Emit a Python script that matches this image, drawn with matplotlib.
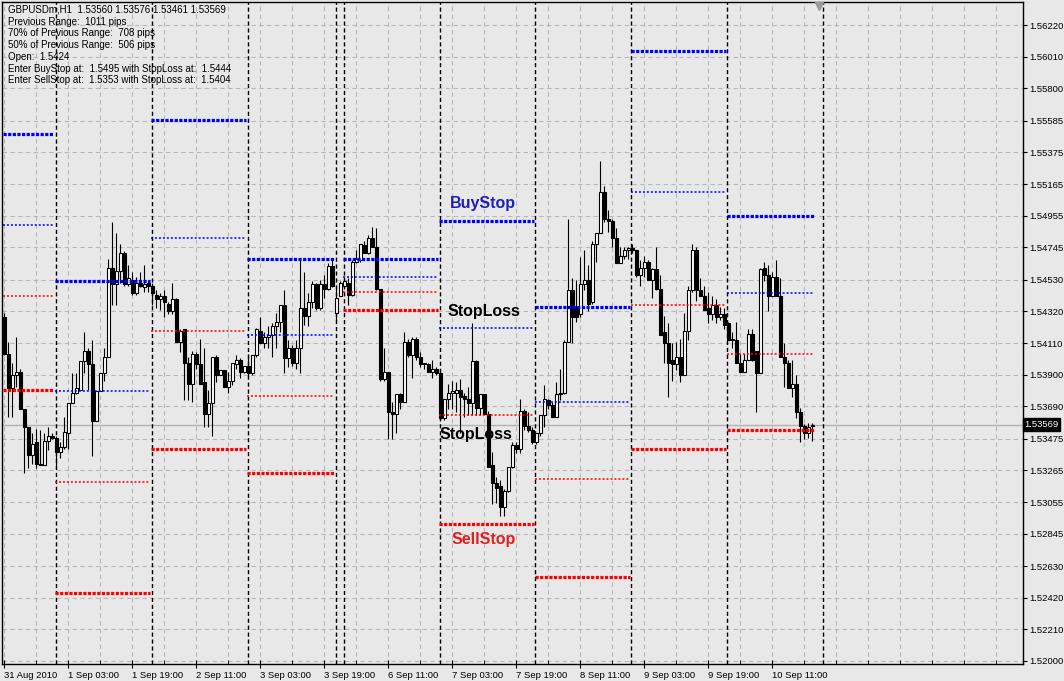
# GBPUSDm H1 chart with daily breakout levels (BuyStop / SellStop / StopLoss)
import matplotlib
matplotlib.use("Agg")
import numpy as np
import matplotlib.pyplot as plt
from matplotlib.transforms import blended_transform_factory

plt.rcParams['font.family'] = ['Liberation Sans', 'DejaVu Sans']

# ---- candle data ----
opens = [1.5428, 1.5404, 1.5381, 1.5390, 1.5392, 1.5367, 1.5355, 1.5337, 1.5345, 1.5331,
         1.5330, 1.5346, 1.5349, 1.5348, 1.5339, 1.5342, 1.5351, 1.5371, 1.5378, 1.5380,
         1.5399, 1.5406, 1.5397, 1.5359, 1.5379, 1.5391, 1.5402, 1.5461, 1.5450, 1.5459,
         1.5471, 1.5450, 1.5453, 1.5444, 1.5451, 1.5448, 1.5451, 1.5449, 1.5443, 1.5440,
         1.5442, 1.5437, 1.5432, 1.5440, 1.5412, 1.5420, 1.5398, 1.5384, 1.5404, 1.5397,
         1.5385, 1.5364, 1.5371, 1.5402, 1.5390, 1.5393, 1.5382, 1.5386, 1.5397, 1.5400,
         1.5392, 1.5396, 1.5391, 1.5403, 1.5419, 1.5411, 1.5415, 1.5416, 1.5422, 1.5425,
         1.5436, 1.5401, 1.5408, 1.5398, 1.5408, 1.5434, 1.5429, 1.5438, 1.5450, 1.5434,
         1.5450, 1.5447, 1.5462, 1.5431, 1.5442, 1.5449, 1.5451, 1.5443, 1.5465, 1.5466,
         1.5476, 1.5471, 1.5481, 1.5475, 1.5447, 1.5387, 1.5392, 1.5365, 1.5364, 1.5377,
         1.5372, 1.5412, 1.5403, 1.5414, 1.5402, 1.5397, 1.5397, 1.5392, 1.5394, 1.5391,
         1.5361, 1.5374, 1.5378, 1.5378, 1.5380, 1.5376, 1.5374, 1.5371, 1.5399, 1.5368,
         1.5377, 1.5364, 1.5330, 1.5318, 1.5316, 1.5302, 1.5313, 1.5329, 1.5343, 1.5341,
         1.5366, 1.5356, 1.5353, 1.5345, 1.5351, 1.5363, 1.5373, 1.5370, 1.5362, 1.5377,
         1.5378, 1.5412, 1.5446, 1.5435, 1.5430, 1.5450, 1.5453, 1.5438, 1.5477, 1.5484,
         1.5511, 1.5493, 1.5492, 1.5481, 1.5464, 1.5469, 1.5473, 1.5474, 1.5473, 1.5456,
         1.5461, 1.5465, 1.5453, 1.5460, 1.5447, 1.5418, 1.5411, 1.5400, 1.5397, 1.5402,
         1.5390, 1.5419, 1.5446, 1.5473, 1.5446, 1.5442, 1.5434, 1.5430, 1.5436, 1.5428,
         1.5430, 1.5424, 1.5413, 1.5413, 1.5398, 1.5392, 1.5400, 1.5417, 1.5406, 1.5391,
         1.5461, 1.5456, 1.5442, 1.5455, 1.5442, 1.5402, 1.5398, 1.5381, 1.5384, 1.5365,
         1.5356, 1.5351, 1.53560]
highs = [1.5431, 1.5412, 1.5398, 1.5415, 1.5394, 1.5367, 1.5355, 1.5351, 1.5354, 1.5353,
         1.5351, 1.5355, 1.5351, 1.5349, 1.5345, 1.5362, 1.5371, 1.5391, 1.5391, 1.5399,
         1.5418, 1.5408, 1.5413, 1.5379, 1.5391, 1.5408, 1.5467, 1.5491, 1.5484, 1.5477,
         1.5472, 1.5463, 1.5458, 1.5455, 1.5458, 1.5463, 1.5453, 1.5451, 1.5446, 1.5444,
         1.5446, 1.5438, 1.5451, 1.5441, 1.5420, 1.5420, 1.5402, 1.5406, 1.5405, 1.5414,
         1.5408, 1.5380, 1.5402, 1.5403, 1.5393, 1.5393, 1.5392, 1.5398, 1.5403, 1.5401,
         1.5396, 1.5404, 1.5403, 1.5421, 1.5428, 1.5418, 1.5422, 1.5424, 1.5431, 1.5436,
         1.5446, 1.5413, 1.5410, 1.5413, 1.5466, 1.5458, 1.5444, 1.5452, 1.5451, 1.5453,
         1.5456, 1.5464, 1.5467, 1.5448, 1.5452, 1.5455, 1.5454, 1.5466, 1.5473, 1.5477,
         1.5479, 1.5483, 1.5488, 1.5487, 1.5447, 1.5408, 1.5392, 1.5372, 1.5377, 1.5378,
         1.5418, 1.5414, 1.5415, 1.5415, 1.5405, 1.5398, 1.5398, 1.5400, 1.5395, 1.5392,
         1.5374, 1.5384, 1.5386, 1.5385, 1.5387, 1.5378, 1.5382, 1.5424, 1.5400, 1.5377,
         1.5377, 1.5366, 1.5339, 1.5322, 1.5320, 1.5314, 1.5329, 1.5345, 1.5345, 1.5374,
         1.5367, 1.5365, 1.5355, 1.5351, 1.5363, 1.5383, 1.5374, 1.5372, 1.5385, 1.5394,
         1.5413, 1.5493, 1.5454, 1.5453, 1.5468, 1.5473, 1.5463, 1.5479, 1.5484, 1.5532,
         1.5515, 1.5499, 1.5493, 1.5487, 1.5475, 1.5475, 1.5475, 1.5477, 1.5473, 1.5466,
         1.5469, 1.5466, 1.5461, 1.5475, 1.5456, 1.5429, 1.5424, 1.5411, 1.5412, 1.5414,
         1.5431, 1.5449, 1.5477, 1.5475, 1.5454, 1.5449, 1.5445, 1.5442, 1.5440, 1.5435,
         1.5434, 1.5425, 1.5418, 1.5425, 1.5404, 1.5404, 1.5420, 1.5420, 1.5406, 1.5461,
         1.5465, 1.5463, 1.5458, 1.5466, 1.5454, 1.5411, 1.5400, 1.5400, 1.5390, 1.5368,
         1.5357, 1.5358, 1.53576]
lows = [1.5403, 1.5362, 1.5362, 1.5382, 1.5367, 1.5325, 1.5328, 1.5331, 1.5328, 1.5330,
        1.5330, 1.5340, 1.5347, 1.5328, 1.5335, 1.5341, 1.5341, 1.5371, 1.5377, 1.5380,
        1.5391, 1.5380, 1.5336, 1.5359, 1.5379, 1.5386, 1.5402, 1.5436, 1.5436, 1.5451,
        1.5449, 1.5449, 1.5443, 1.5443, 1.5448, 1.5445, 1.5445, 1.5436, 1.5434, 1.5433,
        1.5428, 1.5430, 1.5430, 1.5412, 1.5405, 1.5373, 1.5373, 1.5372, 1.5394, 1.5384,
        1.5355, 1.5355, 1.5349, 1.5385, 1.5390, 1.5382, 1.5378, 1.5383, 1.5394, 1.5388,
        1.5391, 1.5388, 1.5390, 1.5402, 1.5411, 1.5408, 1.5408, 1.5402, 1.5408, 1.5418,
        1.5391, 1.5395, 1.5396, 1.5394, 1.5391, 1.5423, 1.5422, 1.5434, 1.5433, 1.5433,
        1.5441, 1.5446, 1.5448, 1.5425, 1.5442, 1.5448, 1.5436, 1.5442, 1.5464, 1.5465,
        1.5471, 1.5470, 1.5475, 1.5446, 1.5386, 1.5386, 1.5347, 1.5347, 1.5351, 1.5367,
        1.5372, 1.5402, 1.5388, 1.5400, 1.5395, 1.5394, 1.5392, 1.5388, 1.5390, 1.5360,
        1.5360, 1.5367, 1.5367, 1.5365, 1.5351, 1.5362, 1.5363, 1.5363, 1.5363, 1.5363,
        1.5364, 1.5329, 1.5304, 1.5305, 1.5296, 1.5296, 1.5312, 1.5328, 1.5338, 1.5338,
        1.5353, 1.5352, 1.5344, 1.5344, 1.5349, 1.5355, 1.5367, 1.5362, 1.5362, 1.5373,
        1.5377, 1.5412, 1.5411, 1.5425, 1.5428, 1.5446, 1.5432, 1.5437, 1.5465, 1.5484,
        1.5491, 1.5485, 1.5475, 1.5464, 1.5464, 1.5467, 1.5467, 1.5471, 1.5455, 1.5449,
        1.5455, 1.5453, 1.5441, 1.5446, 1.5416, 1.5398, 1.5375, 1.5386, 1.5393, 1.5385,
        1.5390, 1.5413, 1.5445, 1.5439, 1.5442, 1.5433, 1.5424, 1.5426, 1.5424, 1.5426,
        1.5420, 1.5413, 1.5408, 1.5398, 1.5392, 1.5392, 1.5400, 1.5399, 1.5365, 1.5391,
        1.5452, 1.5432, 1.5442, 1.5442, 1.5402, 1.5382, 1.5381, 1.5375, 1.5361, 1.5345,
        1.5347, 1.5348, 1.53461]
closes = [1.5404, 1.5381, 1.5390, 1.5392, 1.5367, 1.5355, 1.5337, 1.5344, 1.5331, 1.5330,
          1.5346, 1.5349, 1.5348, 1.5339, 1.5342, 1.5352, 1.5371, 1.5378, 1.5381, 1.5399,
          1.5406, 1.5397, 1.5359, 1.5379, 1.5391, 1.5402, 1.5461, 1.5450, 1.5459, 1.5471,
          1.5450, 1.5454, 1.5444, 1.5451, 1.5449, 1.5450, 1.5449, 1.5444, 1.5440, 1.5442,
          1.5438, 1.5432, 1.5440, 1.5412, 1.5419, 1.5398, 1.5384, 1.5404, 1.5397, 1.5384,
          1.5364, 1.5371, 1.5402, 1.5390, 1.5393, 1.5382, 1.5386, 1.5398, 1.5400, 1.5392,
          1.5396, 1.5391, 1.5403, 1.5420, 1.5411, 1.5415, 1.5416, 1.5422, 1.5425, 1.5436,
          1.5401, 1.5408, 1.5398, 1.5408, 1.5434, 1.5429, 1.5438, 1.5450, 1.5434, 1.5450,
          1.5447, 1.5462, 1.5449, 1.5441, 1.5451, 1.5452, 1.5443, 1.5465, 1.5467, 1.5477,
          1.5471, 1.5481, 1.5475, 1.5447, 1.5387, 1.5392, 1.5365, 1.5364, 1.5377, 1.5372,
          1.5412, 1.5403, 1.5414, 1.5402, 1.5397, 1.5398, 1.5392, 1.5394, 1.5391, 1.5361,
          1.5374, 1.5378, 1.5379, 1.5380, 1.5375, 1.5374, 1.5371, 1.5399, 1.5368, 1.5377,
          1.5364, 1.5329, 1.5318, 1.5315, 1.5302, 1.5313, 1.5329, 1.5343, 1.5341, 1.5366,
          1.5356, 1.5353, 1.5345, 1.5351, 1.5363, 1.5374, 1.5370, 1.5362, 1.5377, 1.5378,
          1.5412, 1.5446, 1.5428, 1.5428, 1.5450, 1.5453, 1.5437, 1.5477, 1.5484, 1.5511,
          1.5493, 1.5492, 1.5481, 1.5464, 1.5469, 1.5473, 1.5474, 1.5473, 1.5456, 1.5461,
          1.5465, 1.5453, 1.5460, 1.5447, 1.5416, 1.5411, 1.5398, 1.5397, 1.5402, 1.5390,
          1.5419, 1.5446, 1.5473, 1.5446, 1.5442, 1.5433, 1.5430, 1.5436, 1.5428, 1.5430,
          1.5423, 1.5413, 1.5414, 1.5398, 1.5392, 1.5400, 1.5417, 1.5400, 1.5391, 1.5460,
          1.5456, 1.5442, 1.5455, 1.5442, 1.5402, 1.5398, 1.5381, 1.5384, 1.5365, 1.5356,
          1.5351, 1.5355, 1.53569]

# time axis labels (one every 16 hourly bars)
time_labels = ["31 Aug 2010", "1 Sep 03:00", "1 Sep 19:00", "2 Sep 11:00", "3 Sep 03:00",
               "3 Sep 19:00", "6 Sep 11:00", "7 Sep 03:00", "7 Sep 19:00", "8 Sep 11:00",
               "9 Sep 03:00", "9 Sep 19:00", "10 Sep 11:00"]

# price axis labels
price_ticks = [1.56220, 1.56010, 1.55800, 1.55585, 1.55375, 1.55165, 1.54955, 1.54745,
               1.54530, 1.54320, 1.54110, 1.53900, 1.53690, 1.53475, 1.53265, 1.53055,
               1.52845, 1.52630, 1.52420, 1.52210, 1.52000]
last_price = 1.53569

# daily levels: first / last bar of each day and the four levels
day_first = [0, 13, 37, 61, 85, 109, 133, 157, 181]
day_last = [12, 36, 60, 82, 108, 132, 156, 180, 202]
buy_stop = [1.5550, 1.5452, 1.5559, 1.5467, 1.5467, 1.5492, 1.5435, 1.5605, 1.5495]
buy_sl = [1.5489, 1.5379, 1.5481, 1.5416, 1.5455, 1.5421, 1.5372, 1.5511, 1.5444]
sell_sl = [1.5442, 1.5319, 1.5419, 1.5376, 1.5445, 1.5363, 1.5321, 1.5436, 1.5404]
sell_stop = [1.5380, 1.5245, 1.5341, 1.5325, 1.5433, 1.5291, 1.5256, 1.5341, 1.5353]

# day separators (bar index where a new day starts)
separators = [13, 37, 61, 83, 85, 109, 133, 157, 181, 205]

info_lines = ["GBPUSDm,H1  1.53560 1.53576 1.53461 1.53569",
              "Previous Range:  1011 pips",
              "70% of Previous Range:  708 pips",
              "50% of Previous Range:  506 pips",
              "Open:  1.5424",
              "Enter BuyStop at:  1.5495 with StopLoss at:  1.5444",
              "Enter SellStop at:  1.5353 with StopLoss at:  1.5404"]

BG = '#e8e8e8'
W, H = 1064, 681

fig = plt.figure(figsize=(W / 100, H / 100), dpi=100, facecolor=BG)
ax = fig.add_axes([2 / W, 17 / H, 1021 / W, 662 / H])
ax.set_facecolor(BG)
ax.set_xlim(-0.6, 254.7)
ax.set_ylim(1.51980, 1.56373)

# grid
grid_kw = dict(color='#b8b8b8', linewidth=0.8, dashes=(4, 3), zorder=0)
for p in price_ticks:
    ax.axhline(p, **grid_kw)
for b in range(0, 255, 8):
    ax.axvline(b, **grid_kw)

# bid line
ax.axhline(last_price, color='#b4b4b4', linewidth=1.0, zorder=1)

# day separators
for s in separators:
    ax.axvline(s - 0.2, color='black', linewidth=1.0, dashes=(3, 2), zorder=2)

# candles
o = np.array(opens)
h = np.array(highs)
l = np.array(lows)
c = np.array(closes)
x = np.arange(len(o))
up = c >= o
ax.vlines(x, l, h, color='black', linewidth=0.8, zorder=3)
bottom = np.minimum(o, c)
height = np.maximum(np.abs(c - o), 0.000015)
ax.bar(x, height, bottom=bottom, width=0.66,
       color=np.where(up, 'white', 'black'), edgecolor='black', linewidth=0.8, zorder=4)

# daily levels
for i in range(len(day_first)):
    xs = [day_first[i] - 0.3, day_last[i] + 0.4]
    ax.plot(xs, [buy_stop[i]] * 2, color='#0000ff', linewidth=2.3, dashes=(1.0, 0.45),
            solid_capstyle='butt', dash_capstyle='butt', zorder=5)
    ax.plot(xs, [sell_stop[i]] * 2, color='#ff0000', linewidth=2.3, dashes=(1.0, 0.45),
            solid_capstyle='butt', dash_capstyle='butt', zorder=5)
    ax.plot(xs, [buy_sl[i]] * 2, color='#0000ff', linewidth=1.1, dashes=(1.3, 1.3), zorder=5)
    ax.plot(xs, [sell_sl[i]] * 2, color='#ff0000', linewidth=1.1, dashes=(1.3, 1.3), zorder=5)

# level captions on Tuesday
k = 5
lab_x = 119.7
ax.annotate("BuyStop", (lab_x, buy_stop[k]), xytext=(0, 17), textcoords='offset pixels',
            ha='center', va='center', fontsize=11.5, fontweight='bold', color='#1e1eb8', zorder=6)
ax.annotate("StopLoss", (lab_x, buy_sl[k]), xytext=(1, 16), textcoords='offset pixels',
            ha='center', va='center', fontsize=11.5, fontweight='bold', color='black', zorder=6)
ax.annotate("StopLoss", (lab_x, sell_sl[k]), xytext=(-7, -19), textcoords='offset pixels',
            ha='center', va='center', fontsize=11.5, fontweight='bold', color='black', zorder=6)
ax.annotate("SellStop", (lab_x, sell_stop[k]), xytext=(1, -16), textcoords='offset pixels',
            ha='center', va='center', fontsize=11.5, fontweight='bold', color='#e02020', zorder=6)

# axes styling
for sp in ax.spines.values():
    sp.set_color('black')
    sp.set_linewidth(1.0)

ax.yaxis.tick_right()
ax.set_yticks(price_ticks)
ax.set_yticklabels(["%.5f" % p for p in price_ticks])
ax.tick_params(axis='y', direction='out', length=3, width=0.8, pad=1.5,
               labelsize=6.8, colors='black')

ax.set_xticks(range(0, 16 * len(time_labels), 16))
ax.set_xticklabels(time_labels, ha='left')
ax.set_xticks(range(0, 255, 8), minor=True)
ax.tick_params(axis='x', which='major', direction='inout', length=6, width=0.8, pad=2,
               labelsize=6.8)
ax.tick_params(axis='x', which='minor', direction='in', length=3, width=0.6)

# current price marker box on the price axis
trans = blended_transform_factory(ax.transAxes, ax.transData)
ax.text(1.0015, last_price, "%.5f" % last_price, transform=trans, ha='left', va='center',
        fontsize=6.8, color='white', zorder=10, clip_on=False,
        bbox=dict(boxstyle='square,pad=0.18', fc='black', ec='black'))

# chart shift marker
trans_top = blended_transform_factory(ax.transData, ax.transAxes)
ax.plot([203.6], [0.994], marker='v', markersize=6, color='#9a9a9a', transform=trans_top,
        clip_on=False, zorder=10)

# info block
for i, line in enumerate(info_lines):
    fig.text(8 / W, 1 - (10 + 11.7 * i) / H, line, fontsize=7, va='center', ha='left',
             color='black', zorder=20)

fig.savefig("out.png", dpi=100, facecolor=BG)
